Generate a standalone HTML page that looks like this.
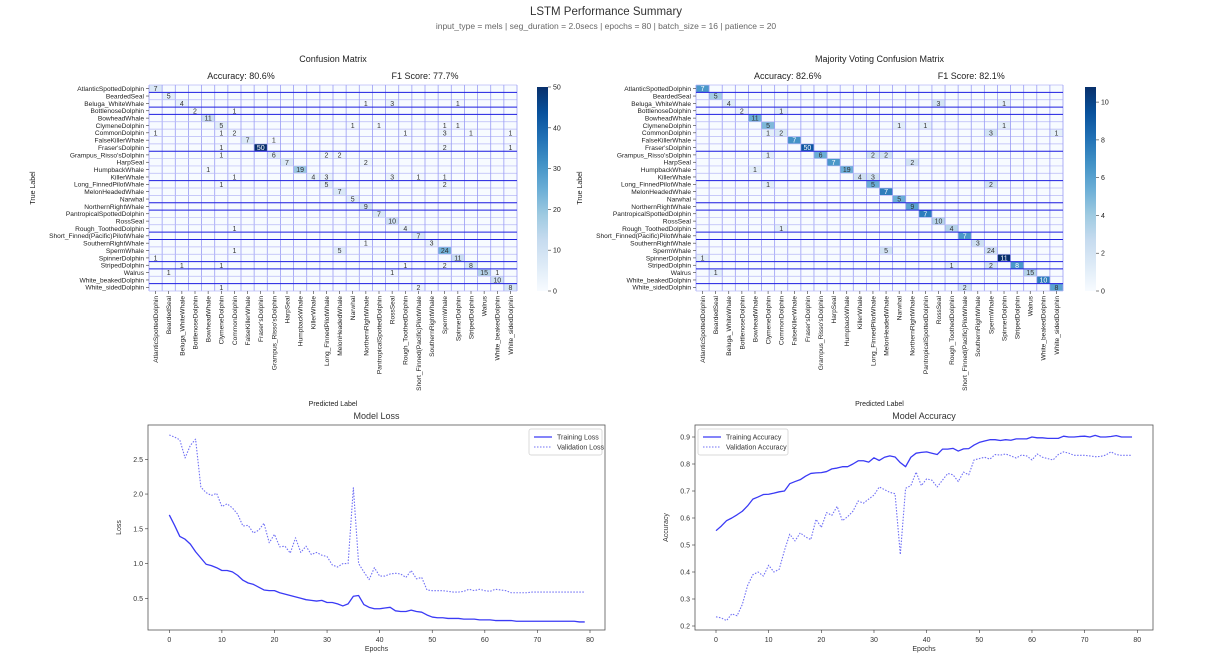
<!DOCTYPE html>
<html><head><meta charset="utf-8">
<style>
html,body{margin:0;padding:0;background:#fff;}
svg{display:block;font-family:"Liberation Sans","DejaVu Sans",sans-serif;}
</style></head>
<body>
<svg id="root" width="1213" height="660" viewBox="0 0 1213 660" xmlns="http://www.w3.org/2000/svg">
<text x="606" y="15" text-anchor="middle" font-size="11.5" fill="#333">LSTM Performance Summary</text>
<text x="606" y="29" text-anchor="middle" font-size="8.5" fill="#666">input_type = mels | seg_duration = 2.0secs | epochs = 80 | batch_size = 16 | patience = 20</text>
<g id="cm1"></g>
<g id="cm2"></g>
<g id="loss"></g>
<g id="acc"></g>
</svg>
<script>
const classes=["AtlanticSpottedDolphin","BeardedSeal","Beluga_WhiteWhale","BottlenoseDolphin","BowheadWhale","ClymeneDolphin","CommonDolphin","FalseKillerWhale","Fraser'sDolphin","Grampus_Risso'sDolphin","HarpSeal","HumpbackWhale","KillerWhale","Long_FinnedPilotWhale","MelonHeadedWhale","Narwhal","NorthernRightWhale","PantropicalSpottedDolphin","RossSeal","Rough_ToothedDolphin","Short_Finned(Pacific)PilotWhale","SouthernRightWhale","SpermWhale","SpinnerDolphin","StripedDolphin","Walrus","White_beakedDolphin","White_sidedDolphin"];
// [row, col, count]
const cmCells=[[0,0,7],[1,1,5],[2,2,4],[2,16,1],[2,18,3],[2,23,1],[3,3,2],[3,6,1],[4,4,11],[5,5,5],[5,15,1],[5,17,1],[5,22,1],[5,23,1],
[6,0,1],[6,5,1],[6,6,2],[6,19,1],[6,22,3],[6,24,1],[6,27,1],[7,7,7],[7,9,1],[8,5,1],[8,8,50],[8,22,2],[8,27,1],[9,5,1],[9,9,6],[9,13,2],[9,14,2],
[10,10,7],[10,16,2],[11,4,1],[11,11,19],[12,6,1],[12,12,4],[12,13,3],[12,18,3],[12,20,1],[12,22,1],[13,5,1],[13,13,5],[13,22,2],[14,14,7],[15,15,5],
[16,16,9],[17,17,7],[18,18,10],[19,6,1],[19,19,4],[20,20,7],[21,16,1],[21,21,3],[22,6,1],[22,14,5],[22,22,24],[23,0,1],[23,23,11],
[24,2,1],[24,5,1],[24,19,1],[24,22,2],[24,24,8],[25,1,1],[25,18,1],[25,25,15],[25,26,1],[26,26,10],[27,5,1],[27,20,2],[27,27,8]];
const mvCells=[[0,0,7],[1,1,5],[2,2,4],[2,18,3],[2,23,1],[3,3,2],[3,6,1],[4,4,11],[5,5,5],[5,15,1],[5,17,1],[5,23,1],[6,5,1],[6,6,2],[6,22,3],[6,27,1],
[7,7,7],[8,8,50],[9,5,1],[9,9,6],[9,13,2],[9,14,2],[10,10,7],[10,16,2],[11,4,1],[11,11,19],[12,12,4],[12,13,3],[13,5,1],[13,13,5],[13,22,2],
[14,14,7],[15,15,5],[16,16,9],[17,17,7],[18,18,10],[19,6,1],[19,19,4],[20,20,7],[21,21,3],[22,14,5],[22,22,24],[23,0,1],[23,23,11],
[24,19,1],[24,22,2],[24,24,8],[25,1,1],[25,25,15],[26,26,10],[27,20,2],[27,27,8]];
// colour intensity (0-1) of majority-voting diagonal as rendered
const mvDiagShade=[0.6,0.35,0.12,0.06,0.5,0.45,0.15,0.62,0.85,0.5,0.6,0.5,0.2,0.5,0.7,0.5,0.55,0.7,0.3,0.3,0.6,0.2,0.2,1.0,0.6,0.3,0.7,0.55];
const cmTicks=[0,10,20,30,40,50];
const mvTicks=[0,2,4,6,8,10];
const trainLoss=[1.70,1.55,1.39,1.35,1.28,1.17,1.08,0.99,0.97,0.94,0.90,0.90,0.88,0.83,0.76,0.72,0.70,0.66,0.62,0.61,0.61,0.58,0.56,0.54,0.52,0.50,0.48,0.47,0.46,0.47,0.44,0.44,0.42,0.39,0.42,0.53,0.54,0.41,0.37,0.35,0.35,0.36,0.37,0.32,0.31,0.31,0.33,0.31,0.30,0.26,0.23,0.22,0.22,0.21,0.21,0.21,0.20,0.20,0.20,0.19,0.19,0.19,0.18,0.18,0.18,0.18,0.17,0.17,0.17,0.17,0.17,0.17,0.17,0.17,0.17,0.17,0.17,0.17,0.16,0.16];
const valLoss=[2.85,2.82,2.78,2.52,2.70,2.79,2.10,2.02,1.98,2.01,1.82,1.86,1.80,1.71,1.54,1.55,1.44,1.48,1.58,1.30,1.42,1.24,1.25,1.15,1.37,1.16,1.25,1.13,1.16,1.12,1.10,0.98,0.95,1.00,1.00,2.09,1.00,0.88,0.77,0.94,0.82,0.82,0.85,0.86,0.85,0.80,0.90,0.78,0.80,0.62,0.61,0.61,0.61,0.60,0.59,0.59,0.60,0.63,0.61,0.63,0.61,0.60,0.63,0.62,0.61,0.58,0.58,0.58,0.58,0.59,0.59,0.59,0.59,0.59,0.59,0.59,0.59,0.59,0.59,0.59];
const trainAcc=[0.553,0.57,0.59,0.60,0.612,0.625,0.645,0.67,0.678,0.687,0.688,0.692,0.697,0.70,0.727,0.735,0.742,0.755,0.765,0.767,0.768,0.772,0.782,0.785,0.79,0.79,0.80,0.812,0.812,0.807,0.823,0.813,0.825,0.83,0.826,0.805,0.79,0.825,0.84,0.843,0.845,0.84,0.835,0.855,0.855,0.858,0.848,0.856,0.857,0.87,0.88,0.885,0.89,0.89,0.887,0.89,0.888,0.893,0.893,0.893,0.90,0.897,0.897,0.895,0.895,0.895,0.903,0.90,0.90,0.902,0.903,0.90,0.906,0.90,0.90,0.902,0.905,0.90,0.90,0.90];
const valAcc=[0.234,0.23,0.22,0.245,0.238,0.28,0.35,0.39,0.40,0.385,0.425,0.40,0.41,0.48,0.54,0.515,0.545,0.53,0.52,0.595,0.565,0.62,0.61,0.643,0.59,0.605,0.625,0.663,0.655,0.67,0.685,0.715,0.705,0.695,0.69,0.465,0.71,0.72,0.77,0.72,0.745,0.74,0.715,0.74,0.765,0.76,0.735,0.77,0.76,0.815,0.82,0.825,0.818,0.835,0.833,0.837,0.83,0.822,0.833,0.83,0.815,0.837,0.825,0.82,0.815,0.835,0.845,0.84,0.832,0.832,0.832,0.83,0.827,0.828,0.833,0.845,0.835,0.832,0.832,0.832];
const lossTicks=[0.5,1.0,1.5,2.0,2.5];
const accTicks=[0.2,0.3,0.4,0.5,0.6,0.7,0.8,0.9];
const epochTicks=[0,10,20,30,40,50,60,70,80];

const NS="http://www.w3.org/2000/svg";
function mk(parent,tag,attrs,text){const e=document.createElementNS(NS,tag);for(const k in attrs)e.setAttribute(k,attrs[k]);if(text!==undefined)e.textContent=text;parent.appendChild(e);return e;}
const stops=["#f7fbff","#deebf7","#c6dbef","#9ecae1","#6baed6","#4292c6","#2171b5","#08519c","#08306b"];
function hex(h){return [1,3,5].map(i=>parseInt(h.substr(i,2),16));}
function blues(t){t=Math.max(0,Math.min(1,t));const p=t*8,i=Math.min(7,Math.floor(p)),f=p-i;const a=hex(stops[i]),b=hex(stops[i+1]);return "rgb("+a.map((v,k)=>Math.round(v+(b[k]-v)*f)).join(",")+")";}

function drawCM(g,cells,vmax,ticks,x0,x1,y0,y1,cbx,title,accTxt,f1Txt,shade){
  const n=classes.length,cw=(x1-x0)/n,ch=(y1-y0)/n;
  const cx=(x0+x1)/2;
  let t=mk(g,'text',{x:cx,y:62,'text-anchor':'middle','font-size':9,fill:'#222'},title);
  
  
  t=mk(g,'text',{x:x0+(x1-x0)*0.25,y:79,'text-anchor':'middle','font-size':9,fill:'#222'},accTxt);
  
  
  t=mk(g,'text',{x:x0+(x1-x0)*0.75,y:79,'text-anchor':'middle','font-size':9,fill:'#222'},f1Txt);
  
  
  const bg=mk(g,'rect',{x:x0,y:y0,width:x1-x0,height:y1-y0,fill:'#f7fbff'});
  
  
  cells.forEach(c=>{
    const [r,col,v]=c;
    const tv=(shade&&r===col)?shade[r]:(shade?Math.min(0.18,v/vmax):v/vmax);
    const rc=mk(g,'rect',{x:x0+col*cw,y:y0+r*ch,width:cw,height:ch,fill:blues(tv)});
    
    
    const tx=mk(g,'text',{x:x0+(col+0.5)*cw,y:y0+(r+0.5)*ch+2.5,'text-anchor':'middle','font-size':7,fill:tv>0.55?'#fff':'#333'},String(v));
    
    
  });
  for(let i=0;i<=n;i++){
    mk(g,'line',{x1:x0+i*cw,x2:x0+i*cw,y1:y0,y2:y1,stroke:'#9a9cf5','stroke-width':0.8});
    mk(g,'line',{x1:x0,x2:x1,y1:y0+i*ch,y2:y0+i*ch,stroke:'#b8baf7','stroke-width':0.7});
  }
  [1,3,4,9,13,16,17,20,21,24,25,27].forEach(i=>{
    mk(g,'line',{x1:x0,x2:x1,y1:y0+i*ch,y2:y0+i*ch,stroke:'#2020e0','stroke-width':1});
  });
  classes.forEach((nm,i)=>{
    const l=mk(g,'text',{x:x0-5,y:y0+(i+0.5)*ch+2.4,'text-anchor':'end','font-size':6.6,fill:'#222'},nm);
    
    
    mk(g,'line',{x1:x0-3,x2:x0,y1:y0+(i+0.5)*ch,y2:y0+(i+0.5)*ch,stroke:'#333','stroke-width':0.6});
    const xx=x0+(i+0.5)*cw;
    mk(g,'line',{x1:xx,x2:xx,y1:y1,y2:y1+3,stroke:'#333','stroke-width':0.6});
    const xl=mk(g,'text',{x:0,y:0,'text-anchor':'end','font-size':6.6,fill:'#222',transform:`translate(${xx+2.4},${y1+5}) rotate(-90)`},nm);
    
    
  });
  t=mk(g,'text',{x:cx,y:406,'text-anchor':'middle','font-size':7,fill:'#222'},'Predicted Label');
  
  
  t=mk(g,'text',{x:0,y:0,'text-anchor':'middle','font-size':7,fill:'#222',transform:`translate(${x0-114},${(y0+y1)/2}) rotate(-90)`},'True Label');
  
  
  const cbTop=87,cbBot=291,cbw=11;
  const defsId='grad'+cbx;
  const defs=mk(g,'defs',{});
  const lg=mk(defs,'linearGradient',{id:defsId,x1:0,y1:1,x2:0,y2:0});
  stops.forEach((s,i)=>mk(lg,'stop',{offset:(i/8),'stop-color':s}));
  const cb=mk(g,'rect',{x:cbx,y:cbTop,width:cbw,height:cbBot-cbTop,fill:`url(#${defsId})`});
  
  
  ticks.forEach(v=>{
    const yy=cbBot-(v/vmax)*(cbBot-cbTop);
    mk(g,'line',{x1:cbx+cbw,x2:cbx+cbw+3,y1:yy,y2:yy,stroke:'#333','stroke-width':0.6});
    const tl=mk(g,'text',{x:cbx+cbw+5,y:yy+2.5,'font-size':7,fill:'#222'},String(v));
    
    
  });
}
drawCM(document.getElementById('cm1'),cmCells,50,cmTicks,149,517,85,291,537,'Confusion Matrix','Accuracy: 80.6%','F1 Score: 77.7%',null);
drawCM(document.getElementById('cm2'),mvCells,10.8,mvTicks,696,1063,85,291,1085,'Majority Voting Confusion Matrix','Accuracy: 82.6%','F1 Score: 82.1%',mvDiagShade);

function drawLine(g,cfg){
  const {L,R,T,B,x0px,x80px,ya,yaPx,yb,ybPx,ticks,fmt,title,ylabel,series,legendX,legendW}=cfg;
  const sx=e=>x0px+(x80px-x0px)*e/80;
  const sy=v=>yaPx+(v-ya)*(ybPx-yaPx)/(yb-ya);
  let t=mk(g,'text',{x:(L+R)/2,y:T-6,'text-anchor':'middle','font-size':9,fill:'#333'},title);
  
  
  const fr=mk(g,'rect',{x:L,y:T,width:R-L,height:B-T,fill:'none',stroke:'#555','stroke-width':0.8});
  
  
  epochTicks.forEach(e=>{
    const xx=sx(e);
    mk(g,'line',{x1:xx,x2:xx,y1:B,y2:B+3,stroke:'#333','stroke-width':0.6});
    const tl=mk(g,'text',{x:xx,y:B+12,'text-anchor':'middle','font-size':7,fill:'#333'},String(e));
    
    
  });
  ticks.forEach(v=>{
    const yy=sy(v);
    mk(g,'line',{x1:L-3,x2:L,y1:yy,y2:yy,stroke:'#333','stroke-width':0.6});
    const tl=mk(g,'text',{x:L-5,y:yy+2.5,'text-anchor':'end','font-size':7,fill:'#333'},v.toFixed(fmt));
    
    
  });
  t=mk(g,'text',{x:(L+R)/2,y:B+21,'text-anchor':'middle','font-size':7,fill:'#333'},'Epochs');
  
  
  t=mk(g,'text',{x:0,y:0,'text-anchor':'middle','font-size':7,fill:'#333',transform:`translate(${L-27},${(T+B)/2}) rotate(-90)`},ylabel);
  
  
  series.forEach(s=>{
    const d=s.data.map((v,i)=>(i?'L':'M')+sx(i).toFixed(2)+','+sy(v).toFixed(2)).join(' ');
    const p=mk(g,'path',{d:d,fill:'none',stroke:s.color,'stroke-width':s.w,'stroke-dasharray':s.dash||'none','stroke-linejoin':'round'});
    
    
  });
  const lg=mk(g,'rect',{x:legendX,y:T+4,width:legendW,height:26,fill:'#fff',stroke:'#ccc','stroke-width':0.7,rx:2});
  
  
  series.forEach((s,i)=>{
    const yy=T+12+i*10;
    mk(g,'line',{x1:legendX+5,x2:legendX+23,y1:yy,y2:yy,stroke:s.color,'stroke-width':s.w,'stroke-dasharray':s.dash||'none'});
    const lt=mk(g,'text',{x:legendX+28,y:yy+2.5,'font-size':7,fill:'#333'},s.label);
    
    
  });
}
drawLine(document.getElementById('loss'),{L:148,R:605,T:425,B:630,x0px:169.3,x80px:590,ya:2.5,yaPx:459.3,yb:0.5,ybPx:598.3,ticks:lossTicks,fmt:1,title:'Model Loss',ylabel:'Loss',legendX:529,legendW:73,
 series:[{data:trainLoss,color:'#3a3af5',w:1.3,name:'training-loss-line',label:'Training Loss'},{data:valLoss,color:'#7070f5',w:1.1,dash:'1.5,1.5',name:'validation-loss-line',label:'Validation Loss'}]});
drawLine(document.getElementById('acc'),{L:695,R:1153,T:425,B:630,x0px:716,x80px:1137.3,ya:0.9,yaPx:437,yb:0.2,ybPx:626,ticks:accTicks,fmt:1,title:'Model Accuracy',ylabel:'Accuracy',legendX:698,legendW:90,
 series:[{data:trainAcc,color:'#3a3af5',w:1.3,name:'training-accuracy-line',label:'Training Accuracy'},{data:valAcc,color:'#7070f5',w:1.1,dash:'1.5,1.5',name:'validation-accuracy-line',label:'Validation Accuracy'}]});
</script>
</body></html>
